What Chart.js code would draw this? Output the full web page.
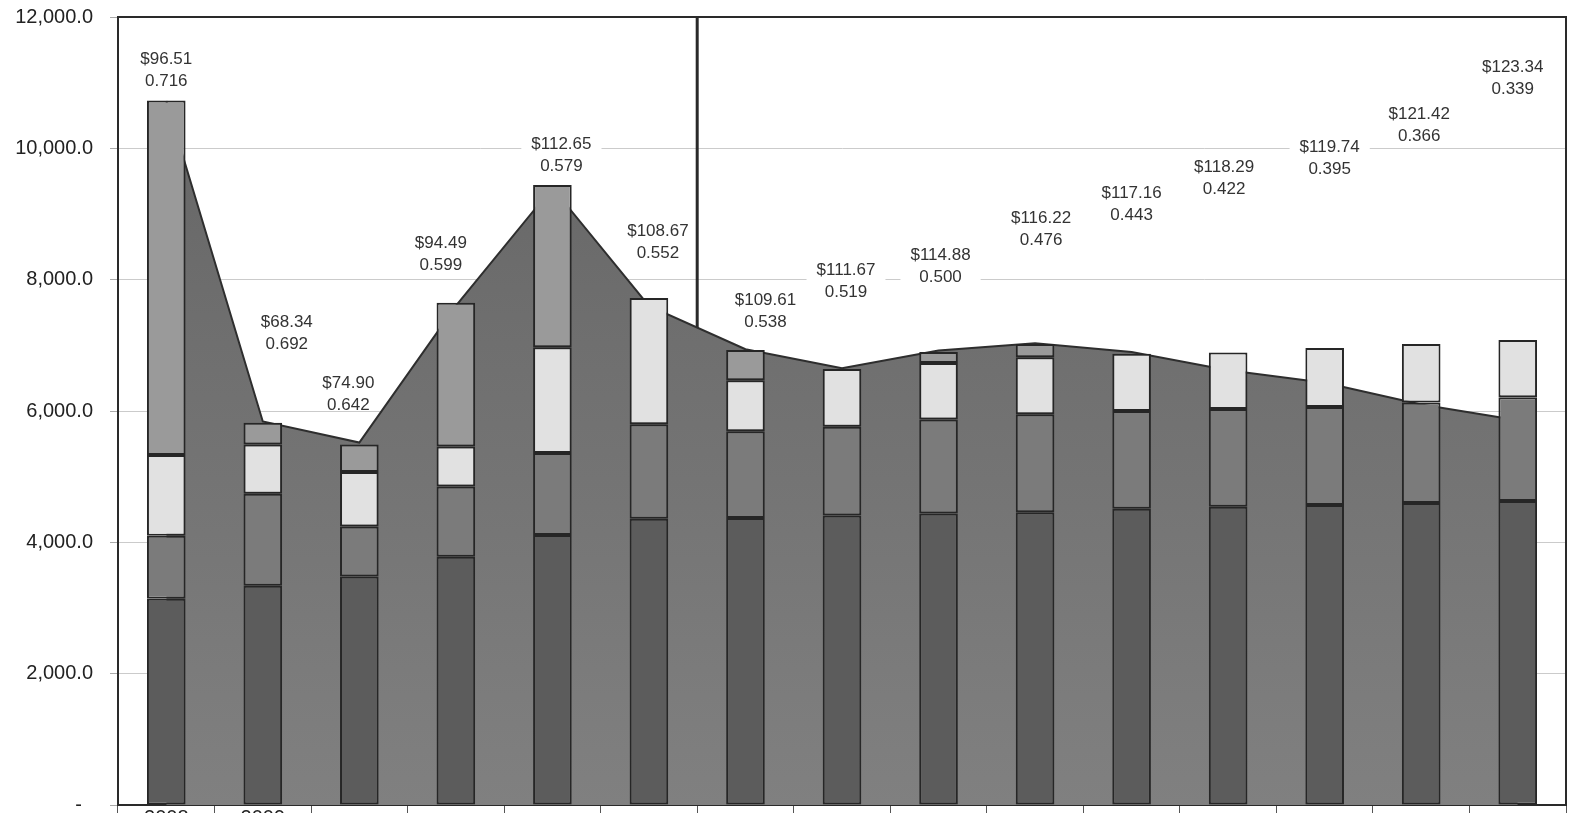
<!DOCTYPE html>
<html>
<head>
<meta charset="utf-8">
<title>Cost build-up</title>
<script src="https://cdn.jsdelivr.net/npm/chart.js@4.4.1/dist/chart.umd.min.js"></script>
<style>
  html, body { margin: 0; padding: 0; background: #fff; overflow: hidden; }
  #wrap { position: relative; width: 1574px; height: 830px; }
</style>
</head>
<body>
<div id="wrap"><canvas id="chart"></canvas></div>
<script>
// only the first two year labels are printed under the axis
var years = ['2008', '2009', '', '', '', '', '', '', '', '', '', '', '', '', ''];

// stacked components, bottom to top
var baseCost  = [3140, 3340, 3480, 3780, 4110, 4360, 4370, 4410, 4440, 4460, 4510, 4540, 4570, 4600, 4630];
var midCost   = [ 960, 1400,  760, 1070, 1250, 1440, 1320, 1350, 1430, 1490, 1490, 1490, 1490, 1530, 1580];
var lightCost = [1230,  750,  830,  610, 1610, 1920,  780,  880,  860,  870,  870,  860,  900,  890,  870];
var topCost   = [5400,  330,  420, 2190, 2470,    0,  460,    0,  170,  200,    0,    0,    0,    0,    0];

// background area series
var areaTotal = [10720, 5840, 5520, 7600, 9400, 7600, 6940, 6650, 6920, 7030, 6900, 6620, 6430, 6100, 5860];

// price / ratio annotations and the height they sit at
var prices = [96.51, 68.34, 74.90, 94.49, 112.65, 108.67, 109.61, 111.67, 114.88, 116.22, 117.16, 118.29, 119.74, 121.42, 123.34];
var ratios = [0.716, 0.692, 0.642, 0.599, 0.579, 0.552, 0.538, 0.519, 0.500, 0.476, 0.443, 0.422, 0.395, 0.366, 0.339];
var labelLevel = [11190, 7190, 6260, 8380, 9900, 8570, 7520, 7980, 8210, 8770, 9150, 9550, 9850, 10350, 11070];

var yTicks = [0, 2000, 4000, 6000, 8000, 10000, 12000];

var FONT = '"Liberation Sans", Arial, sans-serif';

var priceLabels = {
    id: 'priceLabels',
    beforeDatasetsDraw: function (chart, args, opts) {
        var ctx = chart.ctx, xs = chart.scales.x, ys = chart.scales.y, area = chart.chartArea;
        ctx.save();
        ctx.font = '17px ' + FONT;
        ctx.textAlign = 'center';
        ctx.textBaseline = 'middle';
        prices.forEach(function (p, i) {
            var cx = xs.getPixelForValue(i) + opts.nudge[i];
            var cy = ys.getPixelForValue(labelLevel[i]);
            var l1 = '$' + p.toFixed(2);
            var l2 = ratios[i].toFixed(3);
            var w = Math.max(ctx.measureText(l1).width, ctx.measureText(l2).width);
            ctx.fillStyle = '#fff';
            ctx.fillRect(cx - w / 2 - 10, cy - 24, w + 20, 41);
            ctx.fillStyle = '#333';
            ctx.fillText(l1, cx, cy - 11);
            ctx.fillText(l2, cx, cy + 11);
        });
        // divider between the sixth and seventh year
        var dx = (xs.getPixelForValue(5) + xs.getPixelForValue(6)) / 2;
        ctx.strokeStyle = '#2a2a2a';
        ctx.lineWidth = 3;
        ctx.beginPath();
        ctx.moveTo(dx, area.top);
        ctx.lineTo(dx, area.bottom);
        ctx.stroke();
        ctx.restore();
    },
    afterDatasetsDraw: function (chart) {
        var ctx = chart.ctx, a = chart.chartArea;
        ctx.save();
        ctx.strokeStyle = '#2a2a2a';
        ctx.lineWidth = 2;
        ctx.beginPath();
        ctx.moveTo(a.left, a.top);
        ctx.lineTo(a.right, a.top);
        ctx.lineTo(a.right, a.bottom);
        ctx.stroke();
        ctx.restore();
    }
};

function barSet(label, data, color) {
    return {
        type: 'bar',
        label: label,
        data: data,
        backgroundColor: color,
        borderColor: '#262626',
        borderWidth: 2,
        borderSkipped: false,
        stack: 'cost',
        order: 1,
        categoryPercentage: 1,
        barPercentage: 0.4
    };
}

var ctx = document.getElementById('chart');
var myChart = new Chart(ctx, {
    data: {
        labels: years,
        datasets: [
            barSet('Base', baseCost, '#5c5c5c'),
            barSet('Mid', midCost, '#7b7b7b'),
            barSet('Light', lightCost, '#e1e1e1'),
            barSet('Top', topCost, '#9a9a9a'),
            {
                type: 'line',
                label: 'Total',
                data: areaTotal,
                stack: 'area',
                order: 2,
                fill: 'origin',
                tension: 0,
                pointRadius: 0,
                borderColor: '#2e2e2e',
                borderWidth: 2,
                backgroundColor: function (c) {
                    var a = c.chart.chartArea;
                    if (!a) return '#747474';
                    var g = c.chart.ctx.createLinearGradient(0, a.top, 0, a.bottom);
                    g.addColorStop(0, '#636363');
                    g.addColorStop(1, '#808080');
                    return g;
                }
            }
        ]
    },
    plugins: [priceLabels],
    options: {
        responsive: true,
        maintainAspectRatio: false,
        animation: false,
        layout: { padding: { top: 17, right: 8, left: 0, bottom: 0 } },
        plugins: {
            legend: { display: false },
            tooltip: { enabled: false },
            priceLabels: { nudge: [0, 24, -11, -15, 9, 9, 20, 4, 2, 6, 0, -4, 5, -2, -5] }
        },
        scales: {
            x: {
                stacked: true,
                grid: { drawOnChartArea: false, offset: true, tickLength: 8, color: '#555' },
                border: { color: '#2a2a2a', width: 2 },
                ticks: { font: { family: FONT, size: 20 }, color: '#222', padding: -7, maxRotation: 0, autoSkip: false },
                afterFit: function (s) { s.height = 25; }
            },
            y: {
                stacked: true,
                min: 0,
                max: 12000,
                afterBuildTicks: function (s) { s.ticks = yTicks.map(function (v) { return { value: v }; }); },
                grid: { color: '#cbcbcb', lineWidth: 1, tickLength: 8, tickColor: '#aaa' },
                border: { color: '#2a2a2a', width: 2 },
                ticks: {
                    font: { family: FONT, size: 20 },
                    color: '#222',
                    padding: 17,
                    callback: function (v) {
                        if (v === 0) return '-  ';
                        return v.toLocaleString('en-US', { minimumFractionDigits: 1, maximumFractionDigits: 1 });
                    }
                },
                afterFit: function (s) {
                    s.width = 118;
                    s.paddingTop = 0;
                    s.paddingBottom = 0;
                }
            }
        }
    }
});
</script>
</body>
</html>
